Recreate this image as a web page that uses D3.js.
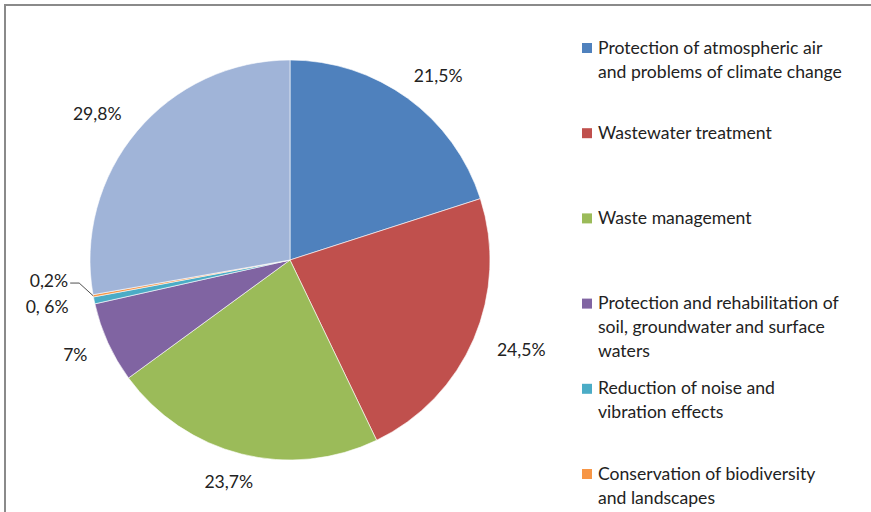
<!DOCTYPE html>
<html>
<head>
<meta charset="utf-8">
<script src="https://cdn.jsdelivr.net/npm/d3@7/dist/d3.min.js"></script>
<style>
  body { margin: 0; background: #fff; }
  svg text { font-family: Lato, "Open Sans", sans-serif; fill: #222; }
</style>
</head>
<body>
<div id="chart-area"></div>
<script>
// Environmental expenditure shares
var categories = [
    "Protection of atmospheric air\nand problems of climate change",
    "Wastewater treatment",
    "Waste management",
    "Protection and rehabilitation of\nsoil, groundwater and surface\nwaters",
    "Reduction of noise and\nvibration effects",
    "Conservation of biodiversity\nand landscapes",
    "Other"
];
var values = [21.5, 24.5, 23.7, 7, 0.6, 0.2, 29.8];
var labels = ["21,5%", "24,5%", "23,7%", "7%", "0, 6%", "0,2%", "29,8%"];
var colors = ["#4F81BD", "#C0504D", "#9BBB59", "#8064A2", "#4BACC6", "#F79646", "#A0B4D8"];

var width = 871, height = 512;
var cx = 290, cy = 260, radius = 200;

var svg = d3.select("#chart-area").append("svg")
            .attr("width", width)
            .attr("height", height);

// chart frame (only top and left edges are visible)
svg.append("path")
    .attr("d", "M5,512 L5,5 L871,5")
    .attr("fill", "none")
    .attr("stroke", "#8a8a8a")
    .attr("stroke-width", 2);

const color = d3.scaleOrdinal().domain(categories).range(colors);

const pie = d3.pie().sort(null).value((d) => {return d.value});
const arc = d3.arc().innerRadius(0).outerRadius(radius);

var data = categories.map((c, i) => {return {name: c, value: values[i], label: labels[i]}});
var arcs = pie(data);

var g = svg.append("g").attr("transform", "translate(" + cx + "," + cy + ")");

g.selectAll("path.slice").data(arcs).enter().append("path")
    .attr("class", "slice")
    .attr("d", arc)
    .attr("fill", (d) => {return color(d.data.name)})
    .attr("stroke", "#fff")
    .attr("stroke-width", 0.6);

// data labels, outside end
var fontSize = 17.6;
var labelG = g.append("g");
var pos = arcs.map((d) => {
    var a = (d.startAngle + d.endAngle) / 2;
    var t = labelG.append("text")
        .attr("font-size", fontSize)
        .text(d.data.label);
    var w = t.node().getComputedTextLength();
    var rr = radius + 20;
    var x = Math.sin(a) * (rr + w * 0.65);
    var y = -Math.cos(a) * (rr + fontSize * 0.45);
    return {d: d, a: a, t: t, w: w, x: x, y: y, y0: y};
});

// resolve overlap on the left side: push upwards
var left = pos.filter((p) => {return p.x < 0}).sort((a, b) => {return b.y - a.y});
for (var i = 1; i < left.length; i++) {
    if (left[i - 1].y - left[i].y < 26) left[i].y = left[i - 1].y - 26;
}

pos.forEach((p) => {
    p.t.attr("x", p.x).attr("y", p.y)
        .attr("text-anchor", "middle")
        .attr("dominant-baseline", "central");
    if (Math.abs(p.y - p.y0) > 3) {
        var ex = Math.sin(p.a) * radius, ey = -Math.cos(p.a) * radius;
        var sx = p.x + p.w / 2 + 2;
        labelG.append("polyline")
            .attr("points", [[sx, p.y + 3], [sx + 9, p.y + 3], [ex, ey]].join(" "))
            .attr("fill", "none")
            .attr("stroke", "#222")
            .attr("stroke-width", 0.8);
    }
});

// legend (entries below the visible area are not drawn)
const ly = d3.scaleLinear().domain([0, 1]).range([48, 48 + 85.2]);
var shown = data.filter((d, i) => {return ly(i) < height});
var legend = svg.append("g").selectAll("g").data(shown).enter().append("g")
    .attr("transform", (d, i) => {return "translate(582," + ly(i) + ")"});

legend.append("rect")
    .attr("x", 0).attr("y", -5)
    .attr("width", 10).attr("height", 10)
    .attr("fill", (d) => {return color(d.name)});

legend.append("text")
    .attr("x", 16)
    .attr("font-size", fontSize)
    .selectAll("tspan").data((d) => {return d.name.split("\n")}).enter().append("tspan")
    .attr("x", 16)
    .attr("y", (d, i) => {return i * 24 - 1})
    .attr("dominant-baseline", "central")
    .text((d) => {return d});
</script>
</body>
</html>
